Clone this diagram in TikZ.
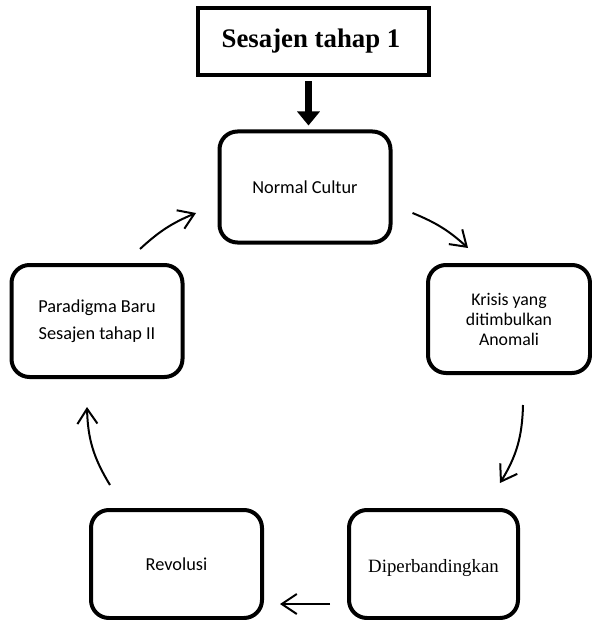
\documentclass[tikz,border=0pt]{standalone}
\usepackage{fontspec}
\setmainfont{Liberation Serif}
\newfontfamily\calibfont{Carlito}
\usetikzlibrary{arrows.meta}
\begin{document}
\begin{tikzpicture}[x=1pt,y=-1pt,
  stagebox/.style={draw,line width=4pt,rounded corners=18pt,align=center,inner sep=0pt},
  calibtext/.style={font=\calibfont\fontsize{18.3}{27}\selectfont},
  flow/.style={line width=2pt,-{Straight Barb[length=15pt,width=20pt,line width=2pt]}}]
\useasboundingbox (0,0) rectangle (591,620);
\node[draw,line width=4.5pt,minimum width=231pt,minimum height=67pt,inner sep=0pt,
      font=\bfseries\fontsize{26.8}{30}\selectfont] (title) at (313.5,41.5) {\hspace*{-5pt}Sesajen tahap 1};
\node[stagebox,calibtext,minimum width=171pt,minimum height=111pt] (normal) at (305,187) {Normal Cultur};
\node[stagebox,minimum width=162pt,minimum height=108pt,font=\calibfont\fontsize{17.8}{20}\selectfont] (krisis) at (509,319) {Krisis yang\\ditimbulkan\\Anomali};
\node[stagebox,calibtext,minimum width=171pt,minimum height=112pt] (paradigma) at (97,321) {Paradigma Baru\\Sesajen tahap II};
\node[stagebox,calibtext,minimum width=171pt,minimum height=108pt] (revolusi) at (176.5,564) {Revolusi};
\node[stagebox,minimum width=169pt,minimum height=108pt,text height=20pt,text depth=4pt,font=\fontsize{18.8}{22}\selectfont] (dip) at (433.5,564) {Diperbandingkan};
% thick arrow
\draw[line width=7pt,-{Triangle[width=22pt,length=14pt]}]
  ([xshift=-5pt,yshift=-4pt]title.south) -- ([xshift=3.5pt,yshift=4pt]normal.north);
% cycle arrows
\draw[flow] ([shift={(20,26)}]normal.east) to[bend left=10] ([shift={(-41,-15)}]krisis.north);
\draw[flow] ([shift={(14,30)}]krisis.south) to[bend left=15] ([shift={(66.5,-25)}]dip.north);
\draw[flow] ([shift={(-17,40)}]dip.west) -- ([shift={(16,40)}]revolusi.east);
\draw[flow] ([shift={(-66.5,-23)}]revolusi.north) to[bend left=15] ([shift={(-10,28)}]paradigma.south);
\draw[flow] ([shift={(43,-14)}]paradigma.north) to[bend left=10] ([shift={(-21.5,26)}]normal.west);
\end{tikzpicture}
\end{document}
